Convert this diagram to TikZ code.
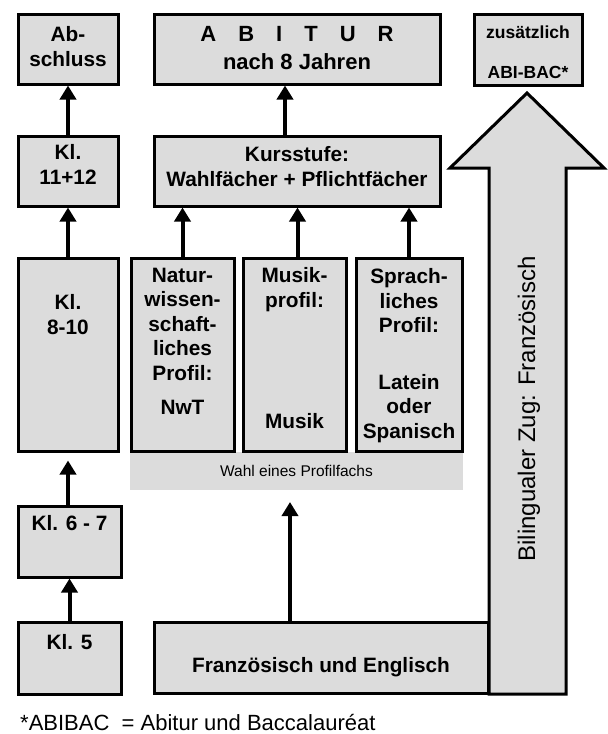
\documentclass[tikz,border=0pt]{standalone}
\usepackage{fontspec}
\setmainfont{Liberation Sans}
\usetikzlibrary{positioning,arrows.meta}
\definecolor{kastengrau}{HTML}{DCDCDC}
\newcommand{\gross}{\bfseries\fontsize{20.8}{24.5}\selectfont}

\begin{document}
\begin{tikzpicture}[x=1pt,y=-1pt]
  \tikzstyle{kasten}=[draw,line width=3pt,fill=kastengrau,inner sep=0pt]
  \tikzstyle{schrift}=[inner sep=0pt,align=center,font=\gross]
  \tikzstyle{pfeil}=[line width=4pt,-{Triangle[width=16pt,length=14pt]}]
  \useasboundingbox (0,0) rectangle (608,734);
  \draw[kasten] (489,694) -- (489,168) -- (450,168) -- (527,93) -- (604,168)
    -- (566,168) -- (566,694) -- cycle;
  \node[rotate=90,font=\fontsize{24}{28}\selectfont] (zug) at (529,409) {Bilingualer Zug: Französisch};
  \node[kasten,minimum width=100pt,minimum height=70pt] (abschluss) at (68,49) {};
  \node[kasten,minimum width=286pt,minimum height=70pt] (abitur) at (297,49) {};
  \node[kasten,minimum width=108pt,minimum height=71pt] (zusatz) at (528,49.5) {};
  \node[kasten,minimum width=100pt,minimum height=70pt] (kl11) at (68,171) {};
  \node[kasten,minimum width=286pt,minimum height=70pt] (kurs) at (297,171) {};
  \node[fill=kastengrau,minimum width=333pt,minimum height=38pt,font=\fontsize{15.5}{18}\selectfont] (wahl) at (296.5,471) {Wahl eines Profilfachs};
  \node[kasten,minimum width=100pt,minimum height=193pt] (kl8) at (68,354.5) {};
  \node[kasten,minimum width=103pt,minimum height=193pt] (natur) at (182.5,354.5) {};
  \node[kasten,minimum width=103pt,minimum height=193pt] (musik) at (294.5,354.5) {};
  \node[kasten,minimum width=106pt,minimum height=193pt] (sprach) at (409,354.5) {};
  \node[kasten,minimum width=103pt,minimum height=71pt] (kl67) at (69.5,541.5) {};
  \node[kasten,minimum width=103pt,minimum height=72pt] (kl5) at (69.5,658) {};
  \node[kasten,minimum width=334pt,minimum height=71pt] (franz) at (321,657.5) {};
  \node[schrift,below=14pt of abschluss.north] (abschlusstext) {Ab-\\schluss};
  \node[schrift,below=14pt of abitur.north,font=\bfseries\fontsize{22}{28}\selectfont] (abiturtext)
    {A\quad B\quad I\quad T\quad U\quad R\\nach 8 Jahren};
  \node[schrift,below=13pt of zusatz.north,font=\bfseries\fontsize{17.5}{40}\selectfont] (zusatztext)
    {zusätzlich\\ABI-BAC*};
  \node[schrift,below=10pt of kl11.north] (kl11text) {Kl.\\11+12};
  \node[schrift,below=12pt of kurs.north] (kurstext) {Kursstufe:\\Wahlfächer + Pflichtfächer};
  \node[schrift,below=38pt of kl8.north] (kl8text) {Kl.\\8-10};
  \node[schrift,below=11pt of natur.north] (naturtext)
    {Natur-\\wissen-\\schaft-\\liches\\Profil:\\[10pt]NwT};
  \node[schrift,below=11pt of musik.north] (musiktext) {Musik-\\profil:\\[97pt]Musik};
  \node[schrift,below=12pt of sprach.north] (sprachtext)
    {Sprach-\\liches\\Profil:\\[32pt]Latein\\oder\\Spanisch};
  \node[schrift,below=11pt of kl67.north] (kl67text) {Kl. 6 - 7};
  \node[schrift,below=14pt of kl5.north] (kl5text) {Kl. 5};
  \node[schrift,below=37pt of franz.north] (franztext) {Französisch und Englisch};
  \node[anchor=west,inner sep=0pt,font=\fontsize{22}{24}\selectfont] (fussnote) at (20,722)
    {*ABIBAC\ \ = Abitur und Baccalauréat};
  \coordinate (wahlziel) at (290,502);
  \draw[pfeil] (kl11) -- (abschluss);
  \draw[pfeil] ([xshift=-12pt]kurs.north) -- ([xshift=-12pt]abitur.south);
  \draw[pfeil] (kl8) -- (kl11);
  \draw[pfeil] (natur) -- (natur |- kurs.south);
  \draw[pfeil] ([xshift=3pt]musik.north) -- ([xshift=3pt]musik.north |- kurs.south);
  \draw[pfeil] (sprach) -- (sprach |- kurs.south);
  \draw[pfeil] (kl8.south |- kl67.north) -- ([yshift=-8pt]kl8.south);
  \draw[pfeil] (kl5) -- (kl67);
  \draw[pfeil] (franz.north -| wahlziel) -- (wahlziel);
\end{tikzpicture}
\end{document}
